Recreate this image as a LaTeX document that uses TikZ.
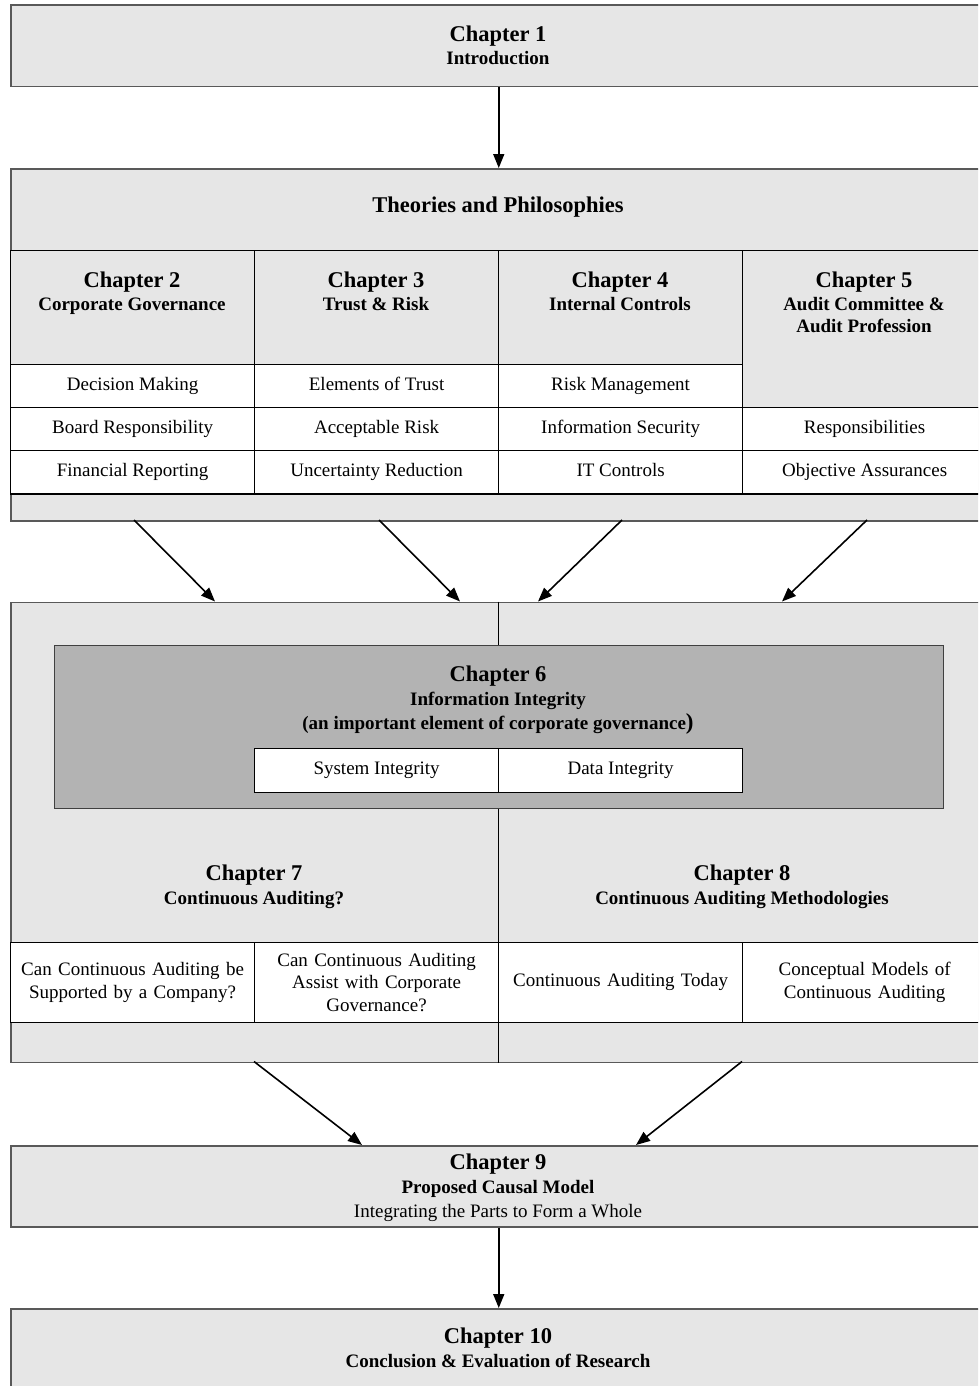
\documentclass[tikz,border=0pt]{standalone}
\usepackage{fontspec}
\setmainfont{Liberation Serif}
\usetikzlibrary{arrows.meta}

\definecolor{boxgray}{HTML}{E6E6E6}
\definecolor{sixgray}{HTML}{B3B3B3}

\newcommand{\mychfont}{\fontsize{22.5}{26}\selectfont\bfseries}
\newcommand{\mysbfont}{\fontsize{19}{22.5}\selectfont\bfseries}
\newcommand{\myrgfont}{\fontsize{19}{22.5}\selectfont}

\tikzset{
  outerbox/.style={draw=black!65, line width=1.5pt, fill=boxgray, anchor=north west,
    inner sep=0pt, minimum width=976pt},
  hcell/.style={draw=black, line width=1.2pt, fill=boxgray, anchor=north west,
    inner sep=0pt, minimum width=244pt},
  cellbase/.style={draw=black, line width=1.2pt, fill=white, anchor=north west,
    inner sep=0pt, minimum width=244pt, align=center, font=\myrgfont},
  cell/.style={cellbase, minimum height=43.3pt, text height=13pt, text depth=4pt},
  qcell/.style={cellbase, minimum height=80pt, text width=236pt},
  sixbox/.style={draw=black!75, line width=1.3pt, fill=sixgray, anchor=north west,
    inner sep=0pt},
  headtxt/.style={font=\mychfont, inner sep=0pt, anchor=base},
  subtxt/.style={font=\mysbfont, inner sep=0pt, anchor=base},
  regtxt/.style={font=\myrgfont, inner sep=0pt, anchor=base},
  arr/.style={line width=1.6pt, -{Triangle[length=14pt,width=11pt]}},
  divline/.style={draw=black, line width=1.2pt},
}

\begin{document}
\begin{tikzpicture}[x=1pt,y=-1pt]
\useasboundingbox (0,0) rectangle (978,1386);
\clip (0,0) rectangle (978,1386);

% ---------- Chapter 1 ----------
\node[outerbox, minimum height=81.5pt] (ch1) at (10,4.5) {};
\node[headtxt] (ch1a) at (498,41.5) {Chapter 1};
\node[subtxt] (ch1b) at (498,65) {Introduction};

% ---------- Theories and Philosophies ----------
\node[outerbox, minimum height=352pt] (theo) at (10,168) {};
\node[headtxt] (theot) at (498,212) {Theories and Philosophies};

\node[hcell, minimum height=114pt] (c2h) at (10,249.5) {};
\node[hcell, minimum height=114pt] (c3h) at (254,249.5) {};
\node[hcell, minimum height=114pt] (c4h) at (498,249.5) {};
\node[hcell, minimum height=157.3pt] (c5h) at (742,249.5) {};

\node[headtxt] (c2a) at (132,287) {Chapter 2};
\node[subtxt]  (c2b) at (132,310) {Corporate Governance};
\node[headtxt] (c3a) at (376,287) {Chapter 3};
\node[subtxt]  (c3b) at (376,310) {Trust \& Risk};
\node[headtxt] (c4a) at (620,287) {Chapter 4};
\node[subtxt]  (c4b) at (620,310) {Internal Controls};
\node[headtxt] (c5a) at (864,287) {Chapter 5};
\node[subtxt]  (c5b) at (864,310) {Audit Committee \&};
\node[subtxt]  (c5c) at (864,332) {Audit Profession};

\node[cell] (r21) at (10,363.5) {Decision Making};
\node[cell] (r22) at (10,406.8) {Board Responsibility};
\node[cell] (r23) at (10,450.1) {Financial Reporting};
\node[cell] (r31) at (254,363.5) {Elements of Trust};
\node[cell] (r32) at (254,406.8) {Acceptable Risk};
\node[cell] (r33) at (254,450.1) {Uncertainty Reduction};
\node[cell] (r41) at (498,363.5) {Risk Management};
\node[cell] (r42) at (498,406.8) {Information Security};
\node[cell] (r43) at (498,450.1) {IT Controls};
\node[cell] (r52) at (742,406.8) {Responsibilities};
\node[cell] (r53) at (742,450.1) {Objective Assurances};

% ---------- Lower block: chapters 6, 7, 8 ----------
\node[outerbox, minimum height=460pt] (low) at (10,601.5) {};
\draw[divline] (low.north) -- (low.south);

\node[sixbox, minimum width=889.5pt, minimum height=162.5pt] (c6) at (53.5,645) {};
\node[headtxt] (c6a) at (498,681) {Chapter 6};
\node[subtxt]  (c6b) at (498,705) {Information Integrity};
\node[subtxt]  (c6c) at (498,729) {(an important element of corporate governance{\fontsize{23}{26}\selectfont)}};
\node[cell, minimum height=43.5pt] (sys) at (254,748) {System Integrity};
\node[cell, minimum height=43.5pt] (dat) at (498,748) {Data Integrity};

\node[headtxt] (c7a) at (254,880) {Chapter 7};
\node[subtxt]  (c7b) at (254,904) {Continuous Auditing?};
\node[headtxt] (c8a) at (742,880) {Chapter 8};
\node[subtxt]  (c8b) at (742,904) {Continuous Auditing Methodologies};

\node[qcell] (q1) at (10,941.7) {Can Continuous Auditing be\\Supported by a Company?};
\node[qcell] (q2) at (254,941.7) {Can Continuous Auditing\\Assist with Corporate\\Governance?};
\node[qcell] (q3) at (498,941.7) {Continuous Auditing Today};
\node[qcell] (q4) at (742,941.7) {Conceptual Models of\\Continuous Auditing};

% ---------- Chapter 9 ----------
\node[outerbox, minimum height=81pt] (ch9) at (10,1145) {};
\node[headtxt] (c9a) at (498,1169) {Chapter 9};
\node[subtxt]  (c9b) at (498,1193) {Proposed Causal Model};
\node[regtxt]  (c9c) at (498,1217) {Integrating the Parts to Form a Whole};

% ---------- Chapter 10 ----------
\node[outerbox, minimum height=120pt] (ch10) at (10,1308) {};
\node[headtxt] (c10a) at (498,1343) {Chapter 10};
\node[subtxt]  (c10b) at (498,1367) {Conclusion \& Evaluation of Research};

% ---------- connectors ----------
\coordinate (s1) at (134,520);  \coordinate (e1) at (215,601.5);
\coordinate (s2) at (379,520);  \coordinate (e2) at (460,601.5);
\coordinate (s3) at (622,520);  \coordinate (e3) at (538,601.5);
\coordinate (s4) at (867,520);  \coordinate (e4) at (782,601.5);
\coordinate (s5) at (254,1061.5); \coordinate (e5) at (362,1145);
\coordinate (s6) at (742,1061.5); \coordinate (e6) at (636,1145);

\draw[arr] (ch1.south) -- (theo.north);
\draw[arr] (s1) -- (e1);
\draw[arr] (s2) -- (e2);
\draw[arr] (s3) -- (e3);
\draw[arr] (s4) -- (e4);
\draw[arr] (s5) -- (e5);
\draw[arr] (s6) -- (e6);
\draw[arr] (ch9.south) -- (ch10.north);
\end{tikzpicture}
\end{document}
